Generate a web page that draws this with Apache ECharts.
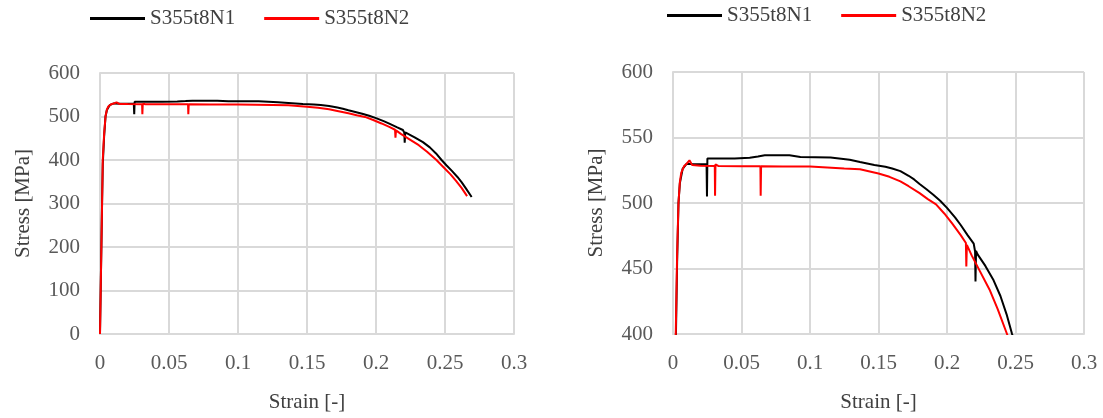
<!DOCTYPE html>
<html>
<head>
<meta charset="utf-8">
<script src="https://cdn.jsdelivr.net/npm/echarts@6/dist/echarts.min.js"></script>
<style>
html,body{margin:0;padding:0;background:#fff;}
#c{width:1103px;height:418px;}
</style>
</head>
<body>
<div id="c"></div>
<script>
// ---- data ----
const seriesNames = ['S355t8N1', 'S355t8N2'];

const strainN1 = [0, 0.0005, 0.001, 0.0015, 0.002, 0.003, 0.004, 0.005, 0.007, 0.010, 0.015, 0.020, 0.0245, 0.0248, 0.0251, 0.035, 0.045, 0.056, 0.062, 0.067, 0.085, 0.093, 0.115, 0.129, 0.1365, 0.147, 0.155, 0.160, 0.166, 0.172, 0.176, 0.180, 0.185, 0.190, 0.195, 0.200, 0.206, 0.210, 0.215, 0.2195, 0.2205, 0.2208, 0.2212, 0.2222, 0.228, 0.234, 0.239, 0.2435, 0.2475, 0.251, 0.255, 0.259, 0.262, 0.2655, 0.2693];
const stressN1 = [0, 100, 200, 300, 390, 455, 500, 515, 526, 530, 529.5, 529.5, 529.5, 505, 534, 534, 534, 534.5, 535.5, 536.4, 536.4, 535.2, 534.8, 533, 531.3, 529, 527.6, 526.3, 524.3, 520.8, 518, 514.5, 510.5, 506.3, 501.7, 496.3, 488.8, 483.2, 475.5, 469, 463, 440, 463.5, 461, 452, 441, 429, 415, 400, 388, 375, 361, 349, 333, 315];

const strainN2 = [0, 0.0005, 0.001, 0.0015, 0.002, 0.003, 0.004, 0.005, 0.006, 0.008, 0.010, 0.012, 0.014, 0.020, 0.0305, 0.0307, 0.0310, 0.033, 0.050, 0.0638, 0.064, 0.0643, 0.080, 0.100, 0.125, 0.1365, 0.150, 0.158, 0.166, 0.172, 0.180, 0.186, 0.192, 0.198, 0.204, 0.210, 0.2138, 0.2141, 0.2145, 0.218, 0.224, 0.231, 0.237, 0.2438, 0.250, 0.254, 0.258, 0.262, 0.266];
const stressN2 = [0, 100, 200, 300, 400, 460, 500, 516, 523, 528, 530, 532.6, 529, 528.5, 528.3, 505.5, 529.5, 528.3, 528, 528, 505.5, 528, 527.8, 527.8, 526.3, 525.7, 522.5, 520, 516.5, 512.8, 507.5, 503, 499, 492, 484, 475.5, 469.5, 451.5, 468, 460, 448, 434, 419, 400, 380, 367, 352, 336, 317];

const xTicks = { min: 0, max: 0.3, interval: 0.05 };
const yTicksLeft = { min: 0, max: 600, interval: 100 };
const yTicksRight = { min: 400, max: 600, interval: 50 };

// ---- build ----
const pairs = (xs, ys) => xs.map((x, i) => [x, ys[i]]);
const FONT = 'Liberation Serif';
const FS = 21;
const gridColor = '#d9d9d9';
const tickColor = '#595959';
const nameColor = '#404040';

function xAxis(gridIndex) {
  return {
    type: 'value', gridIndex, min: xTicks.min, max: xTicks.max, interval: xTicks.interval,
    name: 'Strain [-]', nameLocation: 'middle', nameGap: 58,
    nameTextStyle: { fontFamily: FONT, fontSize: FS, color: nameColor },
    axisLine: { show: true, lineStyle: { color: gridColor, width: 2 } },
    axisTick: { show: false },
    splitLine: { show: true, lineStyle: { color: gridColor, width: 2 } },
    axisLabel: { fontFamily: FONT, fontSize: FS, color: tickColor, margin: 19 }
  };
}
function yAxis(gridIndex, t) {
  return {
    type: 'value', gridIndex, min: t.min, max: t.max, interval: t.interval,
    name: 'Stress [MPa]', nameLocation: 'middle', nameGap: 66,
    nameTextStyle: { fontFamily: FONT, fontSize: FS, color: nameColor },
    axisLine: { show: true, lineStyle: { color: gridColor, width: 2 } },
    axisTick: { show: false },
    splitLine: { show: true, lineStyle: { color: gridColor, width: 2 } },
    axisLabel: { fontFamily: FONT, fontSize: FS, color: tickColor, margin: 20 }
  };
}
function line(name, data, color, idx) {
  return {
    type: 'line', name, data, xAxisIndex: idx, yAxisIndex: idx,
    showSymbol: false, symbol: 'none', clip: true,
    lineStyle: { color, width: 2 }, itemStyle: { color }
  };
}
function legend(left, top) {
  return {
    data: seriesNames, left, top, padding: 0, icon: 'rect', itemWidth: 55, itemHeight: 3, itemGap: 29,
    textStyle: { fontFamily: FONT, fontSize: FS, color: nameColor }
  };
}

const chart = echarts.init(document.getElementById('c'), null, { renderer: 'canvas' });
chart.setOption({
  animation: false,
  backgroundColor: '#fff',
  legend: [legend(90, 8), legend(667, 5)],
  grid: [
    { left: 100, right: 589, top: 73, bottom: 79 },
    { left: 673, right: 19, top: 72, bottom: 82 }
  ],
  xAxis: [xAxis(0), xAxis(1)],
  yAxis: [yAxis(0, yTicksLeft), yAxis(1, yTicksRight)],
  series: [
    line(seriesNames[0], pairs(strainN1, stressN1), '#000000', 0),
    line(seriesNames[1], pairs(strainN2, stressN2), '#ff0000', 0),
    line(seriesNames[0], pairs(strainN1, stressN1), '#000000', 1),
    line(seriesNames[1], pairs(strainN2, stressN2), '#ff0000', 1)
  ]
});
</script>
</body>
</html>
